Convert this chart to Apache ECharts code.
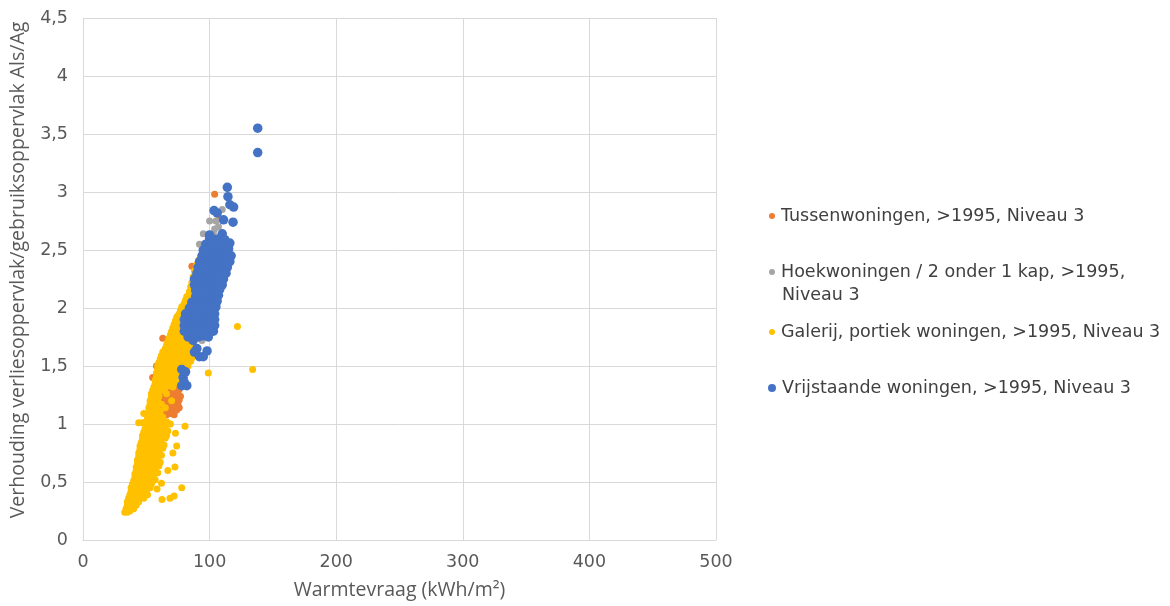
<!DOCTYPE html>
<html>
<head>
<meta charset="utf-8">
<script src="https://cdn.jsdelivr.net/npm/echarts@6/dist/echarts.min.js"></script>
<style>
html,body{margin:0;padding:0;background:#fff;}
#chart{width:1170px;height:606px;}
</style>
</head>
<body>
<div id="chart"></div>
<script>
const seriesNames = [
  'Tussenwoningen, >1995, Niveau 3',
  'Hoekwoningen / 2 onder 1 kap, >1995, Niveau 3',
  'Galerij, portiek woningen, >1995, Niveau 3',
  'Vrijstaande woningen, >1995, Niveau 3'
];
const xTickValues = [0, 100, 200, 300, 400, 500];
const yTickValues = [0, 0.5, 1, 1.5, 2, 2.5, 3, 3.5, 4, 4.5];

const tussenData = [
  [63,1.08],[66,1.08],[69,1.09],[72,1.08],
  [62,1.11],[65,1.11],[68,1.12],[71,1.11],[74,1.12],
  [61,1.14],[64,1.14],[67,1.15],[70,1.14],[73,1.15],[76,1.14],
  [63,1.17],[66,1.18],[69,1.17],[72,1.18],[75,1.17],
  [60,1.20],[63,1.20],[66,1.21],[73,1.20],[76,1.21],
  [62,1.23],[65,1.24],[68,1.23],[71,1.24],[74,1.23],[77,1.24],
  [63,1.26],[69,1.27],[72,1.26],[75,1.27],
  [67,1.29],[70,1.30],[73,1.29],[76,1.30],[74,1.32],[77,1.33],
  [65,1.60],[68,1.62],[67,1.58],[61,1.42],[63,1.74],[75,1.32],[78,1.36],[80,1.39],
  [86,2.36],[90,2.37],[88,2.34],[92,2.33],[104,2.98],[108,2.77],[58,1.50],[70,1.52],
  [74,1.70],[79,1.80],[83,1.95],[55,1.40]
];

const hoekData = [
  [95,2.64],[104,2.68],[107,2.70],[110,2.85],[75,1.93],[78,1.95],[86,1.72],[94,1.72],
  [100,2.75],[104,2.60],[98,2.40],[92,2.10],[88,1.90],[96,2.30],[102,2.50],[90,2.00],
  [95,1.85],[100,2.20],[84,1.80],[108,2.55],[98,1.95],[92,2.55],[105,2.75],[103,2.64]
];

const galerijData = [
  [33,0.24],[35,0.24],[37,0.25],
  [34,0.27],[36,0.27],[38,0.28],[40,0.27],
  [35,0.30],[37,0.31],[39,0.30],[42,0.30],
  [35,0.33],[38,0.33],[41,0.34],[44,0.33],
  [36,0.36],[39,0.36],[42,0.37],[45,0.36],[48,0.36],
  [37,0.39],[40,0.39],[43,0.40],[46,0.39],[49,0.40],[51,0.39],
  [38,0.42],[41,0.42],[44,0.43],[47,0.42],[50,0.42],
  [38,0.45],[41,0.45],[44,0.46],[47,0.45],[50,0.46],[53,0.45],
  [39,0.48],[42,0.48],[45,0.49],[48,0.48],[51,0.49],[54,0.48],
  [40,0.51],[43,0.51],[46,0.52],[49,0.51],[52,0.52],[55,0.51],[57,0.52],
  [41,0.54],[44,0.54],[47,0.55],[50,0.54],[53,0.55],[56,0.54],
  [41,0.57],[44,0.57],[47,0.58],[50,0.57],[53,0.58],[56,0.57],[59,0.58],
  [42,0.60],[45,0.60],[48,0.61],[51,0.60],[54,0.61],[57,0.60],
  [42,0.63],[45,0.63],[48,0.64],[51,0.63],[54,0.64],[57,0.63],[60,0.64],
  [43,0.66],[46,0.66],[49,0.67],[52,0.66],[55,0.67],[58,0.66],[61,0.67],
  [43,0.69],[46,0.69],[49,0.70],[52,0.69],[55,0.70],[58,0.69],
  [44,0.72],[47,0.72],[50,0.73],[53,0.72],[56,0.73],[59,0.72],[62,0.73],
  [44,0.75],[47,0.75],[50,0.76],[53,0.75],[56,0.76],[59,0.75],
  [45,0.78],[48,0.78],[51,0.79],[54,0.78],[57,0.79],[60,0.78],[63,0.79],
  [45,0.81],[48,0.81],[51,0.82],[54,0.81],[57,0.82],[60,0.81],[64,0.82],
  [46,0.84],[49,0.84],[52,0.85],[55,0.84],[58,0.85],[61,0.84],
  [47,0.87],[50,0.87],[53,0.88],[56,0.87],[59,0.88],[62,0.87],[65,0.88],
  [47,0.90],[50,0.90],[53,0.91],[56,0.90],[59,0.91],[62,0.90],
  [48,0.93],[51,0.93],[54,0.94],[57,0.93],[60,0.94],[63,0.93],[67,0.94],
  [49,0.96],[52,0.96],[55,0.97],[58,0.96],[61,0.97],[64,0.96],
  [50,0.99],[53,0.99],[56,1.00],[59,0.99],[62,1.00],[65,0.99],[68,1.00],
  [50,1.02],[53,1.02],[56,1.03],[59,1.02],[62,1.03],[66,1.02],
  [51,1.05],[54,1.05],[57,1.06],[60,1.05],[63,1.06],
  [51,1.08],[54,1.08],[57,1.09],[60,1.08],
  [52,1.11],[55,1.11],[58,1.12],[61,1.11],
  [52,1.14],[55,1.14],[58,1.15],[65,1.14],
  [53,1.17],[56,1.17],[59,1.18],[62,1.17],
  [53,1.20],[56,1.20],[59,1.21],[70,1.20],
  [54,1.23],[57,1.23],[60,1.24],
  [54,1.26],[57,1.26],[60,1.27],[66,1.26],
  [55,1.29],[58,1.29],[61,1.30],[64,1.29],
  [56,1.32],[59,1.32],[62,1.33],[65,1.32],[68,1.33],[71,1.32],
  [57,1.35],[60,1.35],[63,1.36],[66,1.35],[69,1.36],[72,1.35],[77,1.36],
  [57,1.38],[60,1.38],[63,1.39],[66,1.38],[69,1.39],[72,1.38],
  [58,1.41],[61,1.41],[64,1.42],[67,1.41],[70,1.42],[73,1.41],[76,1.42],
  [58,1.44],[61,1.44],[64,1.45],[67,1.44],[70,1.45],[73,1.44],
  [59,1.47],[62,1.47],[65,1.48],[68,1.47],[71,1.48],[74,1.47],[77,1.48],[80,1.47],
  [59,1.50],[62,1.50],[65,1.51],[68,1.50],[71,1.51],[74,1.50],[77,1.51],[83,1.50],
  [60,1.53],[63,1.53],[66,1.54],[69,1.53],[72,1.54],[75,1.53],[78,1.54],[81,1.53],[85,1.54],
  [61,1.56],[64,1.56],[67,1.57],[70,1.56],[73,1.57],[76,1.56],[79,1.57],[82,1.56],[86,1.57],
  [62,1.59],[65,1.59],[68,1.60],[71,1.59],[74,1.60],[77,1.59],[80,1.60],[83,1.59],
  [63,1.62],[66,1.62],[69,1.63],[72,1.62],[75,1.63],[78,1.62],[81,1.63],[84,1.62],
  [65,1.65],[71,1.65],[74,1.66],[77,1.65],[80,1.66],[83,1.65],[86,1.66],
  [66,1.68],[69,1.68],[72,1.69],[75,1.68],[78,1.69],[81,1.68],[84,1.69],[87,1.68],
  [67,1.71],[70,1.71],[73,1.72],[76,1.71],[79,1.72],[82,1.71],[85,1.72],
  [68,1.74],[71,1.74],[74,1.75],[77,1.74],[80,1.75],[83,1.74],
  [69,1.77],[72,1.77],[75,1.78],[78,1.77],[81,1.78],[84,1.77],
  [70,1.80],[73,1.80],[76,1.81],[79,1.80],[82,1.81],
  [71,1.83],[74,1.83],[77,1.84],[80,1.83],
  [72,1.86],[75,1.86],[78,1.87],[81,1.86],
  [73,1.89],[76,1.89],[79,1.90],[82,1.89],
  [74,1.92],[77,1.92],[80,1.93],
  [76,1.95],[79,1.95],[82,1.96],
  [77,1.98],[80,1.98],[83,1.99],
  [78,2.01],[81,2.01],[84,2.02],
  [80,2.04],[83,2.04],[86,2.05],
  [81,2.07],[84,2.07],[87,2.08],
  [82,2.10],[85,2.10],[88,2.11],
  [84,2.14],[87,2.14],[90,2.15],
  [85,2.18],[88,2.18],[91,2.19],
  [86,2.22],[89,2.22],[92,2.23],
  [87,2.27],[90,2.27],[93,2.28],
  [88,2.32],[91,2.32],[94,2.33],
  [90,2.37],[93,2.37],[96,2.38],
  [92,2.42],[95,2.42],[96,2.46],
  [44,1.01],[47,1.01],[48,1.09],[80.6,0.98],[73,0.92],[74,0.81],[71,0.75],[72.6,0.63],
  [67,0.60],[78,0.45],[58.5,0.44],[68.7,0.36],[72,0.38],[62.4,0.35],[62,0.49],
  [99,1.44],[122,1.84],[134,1.47],[66,0.90],[69,1.00]
];

const vrijstaandeData = [
  [138,3.55],[138,3.34],[114,3.04],[114.5,2.96],[116,2.89],[119,2.87],[103.5,2.84],[106,2.82],
  [111,2.76],[118.5,2.74],[110,2.64],[100,2.63],
  [100,2.60],[104,2.59],[108,2.60],[112,2.59],
  [97,2.55],[101,2.56],[105,2.55],[109,2.56],[113,2.55],[116,2.56],
  [95,2.50],[99,2.51],[103,2.50],[107,2.51],[111,2.50],[115,2.51],
  [94,2.45],[98,2.46],[102,2.45],[106,2.46],[110,2.45],[114,2.46],[117,2.45],
  [92,2.40],[96,2.41],[100,2.40],[104,2.41],[108,2.40],[112,2.41],[116,2.40],
  [91,2.35],[95,2.36],[99,2.35],[103,2.36],[107,2.35],[111,2.36],[114,2.35],
  [90,2.30],[94,2.31],[98,2.30],[102,2.31],[106,2.30],[110,2.31],[113,2.30],
  [88,2.25],[92,2.26],[96,2.25],[100,2.26],[104,2.25],[108,2.26],[111,2.25],
  [88,2.20],[92,2.21],[96,2.20],[100,2.21],[104,2.20],[107,2.21],[110,2.20],
  [89,2.15],[93,2.16],[97,2.15],[101,2.16],[105,2.15],[108,2.16],
  [89,2.10],[93,2.11],[97,2.10],[101,2.11],[104,2.10],[107,2.11],
  [86,2.05],[90,2.06],[94,2.05],[98,2.06],[102,2.05],[106,2.06],
  [84,2.00],[88,2.01],[92,2.00],[96,2.01],[100,2.00],[105,2.01],
  [81,1.95],[85,1.96],[89,1.95],[93,1.96],[97,1.95],[101,1.96],[104,1.95],
  [80,1.90],[84,1.91],[88,1.90],[92,1.91],[96,1.90],[100,1.91],[104,1.90],
  [80,1.85],[84,1.86],[88,1.85],[92,1.86],[96,1.85],[100,1.86],[104,1.85],
  [80,1.80],[84,1.81],[88,1.80],[92,1.81],[96,1.80],[100,1.81],[103,1.80],
  [83,1.75],[87,1.76],[91,1.75],[95,1.76],[99,1.75],
  [87,1.72],[88,1.62],[92,1.58],[95,1.58],[98,1.63],[90,1.65],
  [78,1.47],[79,1.40],[78,1.33],[82,1.33],[80,1.36],[81,1.45]
];

const colors = ['#ED7D31', '#A5A5A5', '#FFC000', '#4472C4'];
const dataSets = [tussenData, hoekData, galerijData, vrijstaandeData];
const symbolSizes = [7, 7, 7, 9.5];

const chart = echarts.init(document.getElementById('chart'), null, {renderer: 'canvas'});

const legendTops = [207, 263, 323, 379];
const legendIcon = [6, 6, 6, 8];

const option = {
  animation: false,
  backgroundColor: '#ffffff',
  grid: {left: 83, right: 454, top: 18, bottom: 66, containLabel: false},
  xAxis: {
    type: 'value', min: 0, max: 500, interval: 100,
    name: 'Warmtevraag (kWh/m²)', nameLocation: 'middle', nameGap: 40,
    nameTextStyle: {color: '#595959', fontSize: 19.5, fontFamily: 'Open Sans'},
    axisLine: {show: true, lineStyle: {color: '#D9D9D9', width: 1}},
    axisTick: {show: false},
    axisLabel: {color: '#595959', fontSize: 17.5, fontFamily: 'DejaVu Sans', margin: 13,
      formatter: v => xTickValues.includes(v) ? String(v) : ''},
    splitLine: {show: true, lineStyle: {color: '#D9D9D9', width: 1}}
  },
  yAxis: {
    type: 'value', min: 0, max: 4.5, interval: 0.5,
    name: 'Verhouding verliesoppervlak/gebruiksoppervlak Als/Ag', nameLocation: 'middle', nameGap: 55,
    nameTextStyle: {color: '#595959', fontSize: 19.5, fontFamily: 'Open Sans', padding: [0, 0, 0, 18]},
    axisLine: {show: true, lineStyle: {color: '#D9D9D9', width: 1}},
    axisTick: {show: false},
    axisLabel: {color: '#595959', fontSize: 17.5, fontFamily: 'DejaVu Sans', margin: 15,
      formatter: v => yTickValues.some(t => Math.abs(t - v) < 1e-9) ? String(v).replace('.', ',') : ''},
    splitLine: {show: true, lineStyle: {color: '#D9D9D9', width: 1}}
  },
  legend: seriesNames.map((n, i) => ({
    data: [n],
    left: 769 - (legendIcon[i] - 6) / 2,
    top: legendTops[i],
    orient: 'vertical',
    icon: 'circle',
    itemWidth: legendIcon[i], itemHeight: legendIcon[i],
    itemGap: 0,
    padding: 0,
    selectedMode: false,
    formatter: name => i === 1 ? 'Hoekwoningen / 2 onder 1 kap, >1995,' : name,
    textStyle: {color: '#404040', fontSize: 17.5, fontFamily: 'DejaVu Sans', padding: [0, 0, 0, 1]}
  })),
  graphic: [{
    type: 'text', left: 782, top: 286,
    style: {text: 'Niveau 3', fill: '#404040', font: '17.5px "DejaVu Sans"'}
  }],
  series: seriesNames.map((n, i) => ({
    name: n,
    type: 'scatter',
    data: dataSets[i],
    symbol: 'circle',
    symbolSize: symbolSizes[i],
    itemStyle: {color: colors[i], opacity: 1},
    emphasis: {disabled: true}
  }))
};
chart.setOption(option);
</script>
</body>
</html>
